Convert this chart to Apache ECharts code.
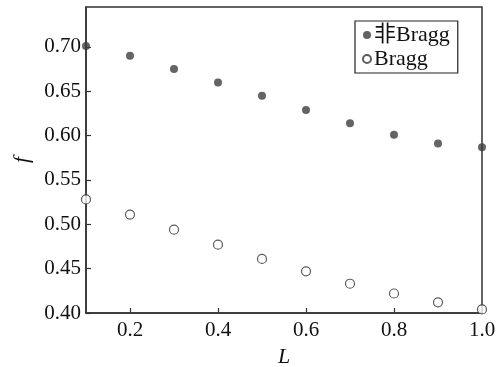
<!DOCTYPE html>
<html>
<head>
<meta charset="utf-8">
<script src="https://cdn.jsdelivr.net/npm/echarts@6/dist/echarts.min.js"></script>
<style>
  html, body { margin: 0; padding: 0; background: #fff; }
  #main { width: 500px; height: 367px; }
</style>
</head>
<body>
<div id="main"></div>
<script>
var xValues = [0.1, 0.2, 0.3, 0.4, 0.5, 0.6, 0.7, 0.8, 0.9, 1.0];
var nonBragg = [0.701, 0.690, 0.675, 0.660, 0.645, 0.629, 0.614, 0.601, 0.591, 0.587];
var bragg = [0.528, 0.511, 0.494, 0.477, 0.461, 0.447, 0.433, 0.422, 0.412, 0.404];
var xTicks = [0.2, 0.4, 0.6, 0.8, 1.0];
var yTicks = [0.40, 0.45, 0.50, 0.55, 0.60, 0.65, 0.70];

var chartDom = document.getElementById('main');
var myChart = echarts.init(chartDom);
var serif = '"Liberation Serif", "DejaVu Serif", "Noto Sans CJK SC", serif';
var ink = '#333';

function pairs(ys) {
  return xValues.map(function (x, i) { return [x, ys[i]]; });
}

var option = {
  animation: false,
  grid: {
    left: 86, right: 18, top: 7, bottom: 54,
    outerBoundsMode: 'none', containLabel: false,
    show: true, borderColor: ink, borderWidth: 1.5
  },
  legend: {
    left: 355, top: 21,
    orient: 'vertical',
    borderColor: '#222', borderWidth: 1.2,
    padding: [3, 8, 3, 7],
    itemGap: 2,
    itemWidth: 8, itemHeight: 8,
    textStyle: { fontFamily: serif, fontSize: 22, color: '#111', padding: [0, 0, 0, -2] },
    data: ['非Bragg', 'Bragg']
  },
  xAxis: {
    type: 'value', min: 0.1, max: 1.0,
    name: 'L', nameLocation: 'middle', nameGap: 32,
    nameTextStyle: { fontFamily: serif, fontStyle: 'italic', fontSize: 22, color: '#111' },
    splitLine: { show: false },
    axisLine: { lineStyle: { color: ink, width: 1.5 } },
    axisTick: { inside: true, length: 5, customValues: xTicks, lineStyle: { color: ink, width: 1.2 } },
    axisLabel: {
      customValues: xTicks, margin: 7,
      fontFamily: serif, fontSize: 21, color: '#111',
      formatter: function (v) { return v.toFixed(1); }
    }
  },
  yAxis: {
    type: 'value', min: 0.40, max: 0.745,
    name: 'f', nameLocation: 'middle', nameGap: 50,
    nameTextStyle: { fontFamily: serif, fontStyle: 'italic', fontSize: 22, color: '#111' },
    splitLine: { show: false },
    axisLine: { lineStyle: { color: ink, width: 1.5 } },
    axisTick: { inside: true, length: 5, customValues: yTicks, lineStyle: { color: ink, width: 1.2 } },
    axisLabel: {
      customValues: yTicks, margin: 5,
      fontFamily: serif, fontSize: 21, color: '#111',
      formatter: function (v) { return v.toFixed(2); }
    }
  },
  series: [
    {
      name: '非Bragg', type: 'scatter', clip: false,
      symbol: 'circle', symbolSize: 8,
      itemStyle: { color: '#3d3d3d' },
      data: pairs(nonBragg)
    },
    {
      name: 'Bragg', type: 'scatter', clip: false,
      symbol: 'circle', symbolSize: 9,
      itemStyle: { color: '#fff', borderColor: '#333', borderWidth: 1.2 },
      data: pairs(bragg)
    }
  ]
};

myChart.setOption(option);
</script>
</body>
</html>
